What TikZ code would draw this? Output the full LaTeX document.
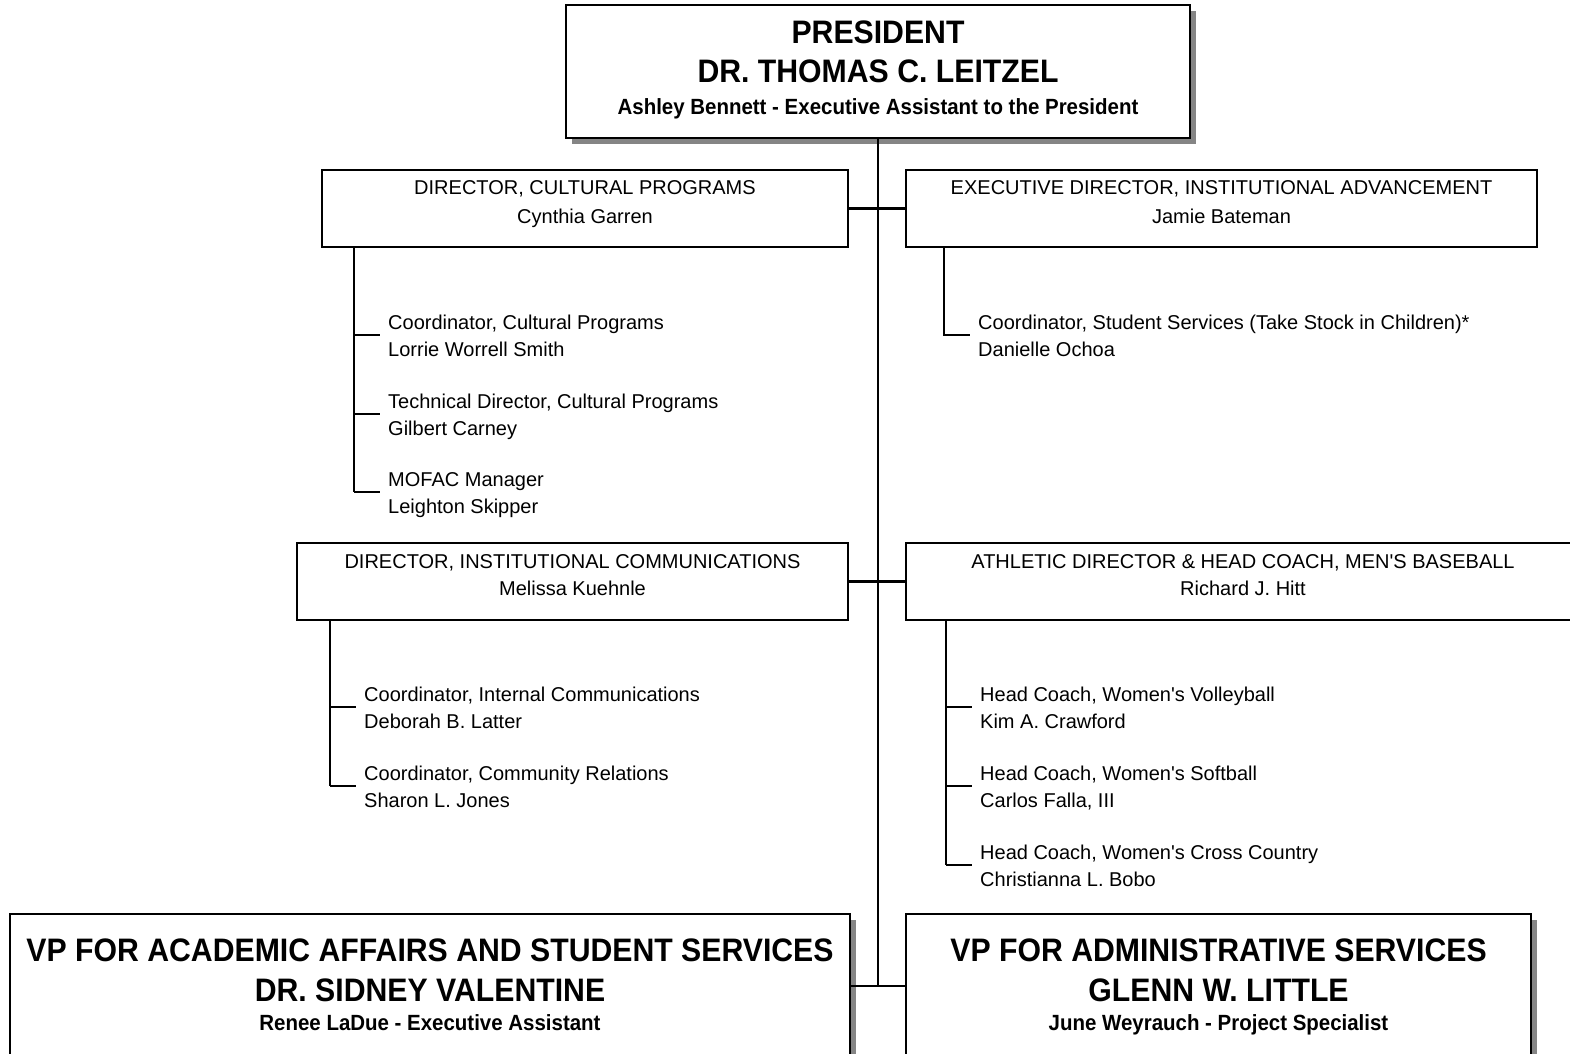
\documentclass[tikz,border=0pt]{standalone}
\usepackage{fontspec}
\setmainfont[Ligatures=TeXOff]{Liberation Sans}
\newfontfamily\bcond[FakeStretch=0.93,Ligatures=TeXOff]{Liberation Sans Bold}
\begin{document}
\begin{tikzpicture}[x=1pt,y=-1pt,
  bigbox/.style={draw=black,line width=2.8pt,fill=white,rectangle,inner sep=0pt},
  midbox/.style={draw=black,line width=2.5pt,fill=white,rectangle,inner sep=0pt},
  conn/.style={line width=2.1pt,black},
  shade/.style={fill=black!48,draw=none},
  bigtxt/.style={inner sep=0pt,anchor=base,font=\bcond\fontsize{32.5}{39}\selectfont},
  smbtxt/.style={inner sep=0pt,anchor=base,font=\bcond\fontsize{22}{26}\selectfont},
  regtxt/.style={inner sep=0pt,anchor=base,font=\fontsize{20}{24}\selectfont},
  subtxt/.style={inner sep=0pt,anchor=base west,font=\fontsize{20}{24}\selectfont}]
\useasboundingbox (0,0) rectangle (1570,1053);
\fill[white] (0,0) rectangle (1570,1053);

% shadows
\fill[shade] (572,11) rectangle (1196,144);
\fill[shade] (16,920) rectangle (856,1064);
\fill[shade] (912,920) rectangle (1537,1064);

% boxes
\node[bigbox,minimum width=624pt,minimum height=133pt] (pres) at (878,71.5) {};
\node[midbox,minimum width=526pt,minimum height=77pt] (cult) at (585,208.5) {};
\node[midbox,minimum width=631pt,minimum height=77pt] (exec) at (1221.5,208.5) {};
\node[midbox,minimum width=551pt,minimum height=77pt] (comm) at (572.5,581.5) {};
\node[midbox,minimum width=674pt,minimum height=77pt] (athl) at (1243,581.5) {};
\node[bigbox,minimum width=840pt,minimum height=144pt] (vpa) at (430,986) {};
\node[bigbox,minimum width=625pt,minimum height=144pt] (vpb) at (1218.5,986) {};

% box texts
\node[bigtxt] (p1) at (878,43.6) {PRESIDENT};
\node[bigtxt] (p2) at (878,82.6) {DR. THOMAS C. LEITZEL};
\node[smbtxt] (p3) at (878,114) {Ashley Bennett - Executive Assistant to the President};

\node[regtxt] (c1) at (585,194) {DIRECTOR, CULTURAL PROGRAMS};
\node[regtxt] (c2) at (585,223) {Cynthia Garren};
\node[regtxt] (e1) at (1221.5,194) {EXECUTIVE DIRECTOR, INSTITUTIONAL ADVANCEMENT};
\node[regtxt] (e2) at (1221.5,223) {Jamie Bateman};
\node[regtxt] (m1) at (572.5,568) {DIRECTOR, INSTITUTIONAL COMMUNICATIONS};
\node[regtxt] (m2) at (572.5,595) {Melissa Kuehnle};
\node[regtxt] (a1) at (1243,568) {ATHLETIC DIRECTOR \& HEAD COACH, MEN'S BASEBALL};
\node[regtxt] (a2) at (1243,595) {Richard J. Hitt};

\node[bigtxt] (va1) at (430,961.6) {VP FOR ACADEMIC AFFAIRS AND STUDENT SERVICES};
\node[bigtxt] (va2) at (430,1001.6) {DR. SIDNEY VALENTINE};
\node[smbtxt] (va3) at (430,1030) {Renee LaDue - Executive Assistant};
\node[bigtxt] (vb1) at (1218.5,961.6) {VP FOR ADMINISTRATIVE SERVICES};
\node[bigtxt] (vb2) at (1218.5,1001.6) {GLENN W. LITTLE};
\node[smbtxt] (vb3) at (1218.5,1030) {June Weyrauch - Project Specialist};

% main connectors
\draw[conn] (pres.south) -- (pres.south |- vpa.east);
\draw[conn] (cult.east) -- (exec.west);
\draw[conn] (comm.east) -- (athl.west);
\draw[conn] (vpa.east) -- (vpb.west);

% sub items
\newcommand\orgitem[5]{%
  \coordinate (#1t) at (#2+26,#3);
  \node[subtxt] (#1a) at (#2+34,#3-6) {#4};
  \node[subtxt] (#1b) at (#2+34,#3+21) {#5};
}
% cultural programs
\coordinate (cv) at (354,247);
\orgitem{ca}{354}{335}{Coordinator, Cultural Programs}{Lorrie Worrell Smith}
\orgitem{cb}{354}{414}{Technical Director, Cultural Programs}{Gilbert Carney}
\orgitem{cc}{354}{492}{MOFAC Manager}{Leighton Skipper}
\draw[conn] (cv) -- (cv |- cct);
\foreach \k in {ca,cb,cc} \draw[conn] (cv |- \k t) -- (\k t);

% executive director
\coordinate (ev) at (944,247);
\orgitem{ea}{944}{335}{Coordinator, Student Services (Take Stock in Children)*}{Danielle Ochoa}
\draw[conn] (ev) |- (eat);

% communications
\coordinate (mv) at (330,620);
\orgitem{ma}{330}{707}{Coordinator, Internal Communications}{Deborah B. Latter}
\orgitem{mb}{330}{786}{Coordinator, Community Relations}{Sharon L. Jones}
\draw[conn] (mv) -- (mv |- mbt);
\foreach \k in {ma,mb} \draw[conn] (mv |- \k t) -- (\k t);

% athletics
\coordinate (av) at (946,620);
\orgitem{aa}{946}{707}{Head Coach, Women's Volleyball}{Kim A. Crawford}
\orgitem{ab}{946}{786}{Head Coach, Women's Softball}{Carlos Falla, III}
\orgitem{ac}{946}{865}{Head Coach, Women's Cross Country}{Christianna L. Bobo}
\draw[conn] (av) -- (av |- act);
\foreach \k in {aa,ab,ac} \draw[conn] (av |- \k t) -- (\k t);
\end{tikzpicture}
\end{document}
